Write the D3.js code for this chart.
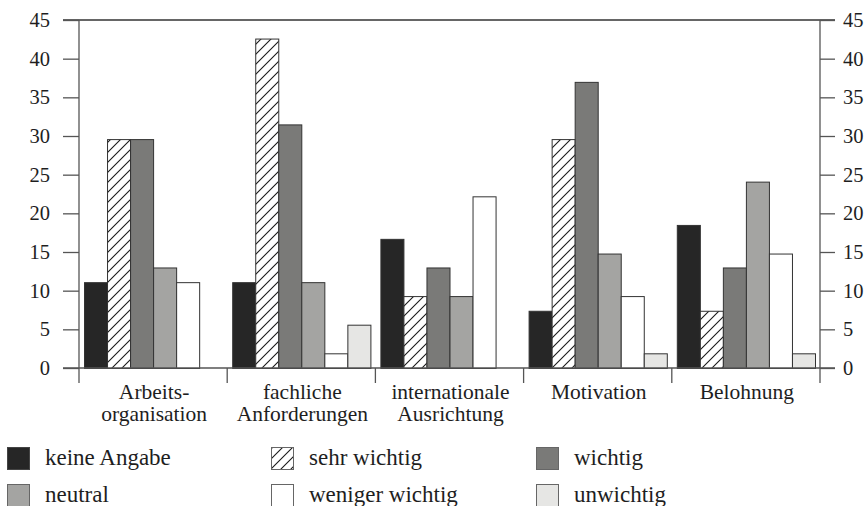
<!DOCTYPE html>
<html><head><meta charset="utf-8">
<script src="https://cdn.jsdelivr.net/npm/d3@7"></script>
</head><body style="margin:0;padding:0;background:#fff"><svg id="c" width="868" height="506" style="display:block"></svg>
<script>
const categories = ["Arbeitsorganisation","fachliche Anforderungen","internationale Ausrichtung","Motivation","Belohnung"];
const categoryLines = [["Arbeits-","organisation"],["fachliche","Anforderungen"],["internationale","Ausrichtung"],["Motivation"],["Belohnung"]];
const seriesNames = ["keine Angabe","sehr wichtig","wichtig","neutral","weniger wichtig","unwichtig"];
const keineAngabe    = [11.1, 11.1, 16.7, 7.4, 18.5];
const sehrWichtig    = [29.6, 42.6, 9.3, 29.6, 7.4];
const wichtig        = [29.6, 31.5, 13.0, 37.0, 13.0];
const neutral        = [13.0, 11.1, 9.3, 14.8, 24.1];
const wenigerWichtig = [11.1, 1.9, 22.2, 9.3, 14.8];
const unwichtig      = [0, 5.6, 0, 1.9, 1.9];
const tickValues = [0,5,10,15,20,25,30,35,40,45];

const series = [keineAngabe, sehrWichtig, wichtig, neutral, wenigerWichtig, unwichtig];
const fills = ["#262626","url(#hatch)","#7a7a78","#a4a4a2","#ffffff","#e6e6e4"];
const FONT = '"Liberation Serif", serif';

const svg = d3.select("#c");
const defs = svg.append("defs");
const pat = defs.append("pattern").attr("id","hatch").attr("patternUnits","userSpaceOnUse")
  .attr("width",10).attr("height",10);
pat.append("rect").attr("width",10).attr("height",10).attr("fill","#fff");
pat.append("path").attr("d","M-2,2 L2,-2 M0,10 L10,0 M8,12 L12,8").attr("stroke","#1a1a1a").attr("stroke-width",1.1);

const x0 = 79, x1 = 820, yTop = 20, yZero = 368;
const x = d3.scaleBand().domain(categories).range([x0, x1]).padding(0);
const xs = d3.scaleBand().domain(seriesNames).range([5, x.bandwidth()-5]).padding(0);
const y = d3.scaleLinear().domain([0,45]).range([yZero, yTop]);

const g = svg.append("g");
categories.forEach((c, ci) => {
  seriesNames.forEach((s, si) => {
    const v = series[si][ci];
    if (v <= 0) return;
    g.append("rect")
      .attr("x", x(c) + xs(s) + 0.5)
      .attr("y", y(v) + 0.5)
      .attr("width", xs.bandwidth())
      .attr("height", y(0) - y(v))
      .attr("fill", fills[si])
      .attr("stroke", "#333")
      .attr("stroke-width", 1);
  });
});

const axisColor = "#555";
const frame = svg.append("g").attr("stroke", axisColor).attr("stroke-width", 1.3).attr("fill","none");
frame.append("line").attr("x1", x0-16).attr("x2", x1+15).attr("y1", y(45)).attr("y2", y(45)).attr("stroke","#333");
frame.append("line").attr("x1", x0-16).attr("x2", x1+15).attr("y1", y(0)).attr("y2", y(0));
frame.append("line").attr("x1", x0).attr("x2", x0).attr("y1", y(45)).attr("y2", y(0)+15);
frame.append("line").attr("x1", x1).attr("x2", x1).attr("y1", y(45)).attr("y2", y(0)+15);
categories.slice(1).forEach(c => {
  frame.append("line").attr("x1", x(c)).attr("x2", x(c)).attr("y1", y(0)).attr("y2", y(0)+15);
});

const left = svg.append("g").attr("transform", `translate(${x0},0)`)
  .call(d3.axisLeft(y).tickValues(tickValues).tickSize(16).tickSizeOuter(0).tickPadding(13));
const right = svg.append("g").attr("transform", `translate(${x1},0)`)
  .call(d3.axisRight(y).tickValues(tickValues).tickSize(15).tickSizeOuter(0).tickPadding(8));
[left, right].forEach(a => {
  a.attr("font-family", null).attr("font-size", null);
  a.select(".domain").remove();
  a.selectAll(".tick line").attr("stroke", axisColor).attr("stroke-width", 1.3);
  a.selectAll(".tick text").style("font-family", FONT).attr("font-size", 20.5).attr("fill", "#1e1e1e");
});

categories.forEach((c, ci) => {
  const cx = x(c) + x.bandwidth()/2 + 1;
  categoryLines[ci].forEach((ln, li) => {
    svg.append("text").attr("x", cx).attr("y", 399 + li*22)
      .attr("text-anchor", "middle").attr("font-size", 21.5).style("font-family", FONT).attr("fill", "#1e1e1e").text(ln);
  });
});

const legX = [7, 271, 536], legY = [447, 484];
seriesNames.forEach((s, si) => {
  const col = si % 3, row = Math.floor(si / 3);
  svg.append("rect").attr("x", legX[col]+0.5).attr("y", legY[row]+0.5).attr("width", 22).attr("height", 22)
    .attr("fill", fills[si]).attr("stroke", si===0 ? "#444" : "#666").attr("stroke-width", 1);
  svg.append("text").attr("x", legX[col] + 38).attr("y", legY[row] + 18).attr("font-size", 23)
    .style("font-family", FONT).attr("fill", "#1e1e1e").text(s);
});
</script></body></html>
